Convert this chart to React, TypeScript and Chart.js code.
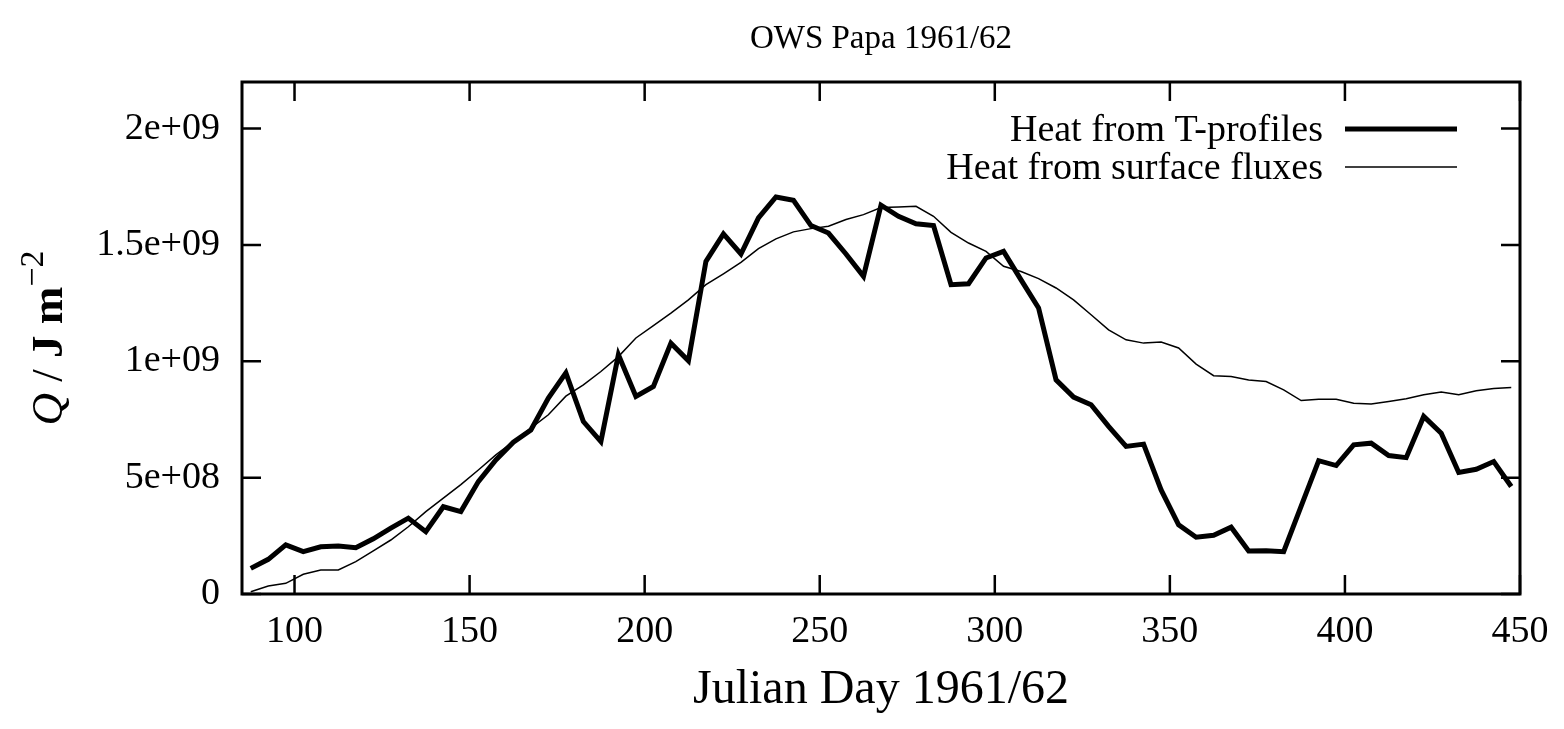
import React, { useEffect, useRef } from "react";
import { Chart, registerables } from "chart.js";

Chart.register(...registerables);

const chartTitle = "OWS Papa 1961/62";
const xAxisTitle = "Julian Day 1961/62";

const days = [
  87.5, 92.5, 97.5, 102.5, 107.5, 112.5, 117.5, 122.5, 127.5, 132.5,
  137.5, 142.5, 147.5, 152.5, 157.5, 162.5, 167.5, 172.5, 177.5, 182.5,
  187.5, 192.5, 197.5, 202.5, 207.5, 212.5, 217.5, 222.5, 227.5, 232.5,
  237.5, 242.5, 247.5, 252.5, 257.5, 262.5, 267.5, 272.5, 277.5, 282.5,
  287.5, 292.5, 297.5, 302.5, 307.5, 312.5, 317.5, 322.5, 327.5, 332.5,
  337.5, 342.5, 347.5, 352.5, 357.5, 362.5, 367.5, 372.5, 377.5, 382.5,
  387.5, 392.5, 397.5, 402.5, 407.5, 412.5, 417.5, 422.5, 427.5, 432.5,
  437.5, 442.5, 447.5,
];

const heatFromTProfiles = [
  1.10e8, 1.49e8, 2.11e8, 1.82e8, 2.03e8, 2.06e8, 1.99e8, 2.37e8, 2.83e8, 3.26e8,
  2.68e8, 3.75e8, 3.54e8, 4.83e8, 5.76e8, 6.52e8, 7.05e8, 8.42e8, 9.50e8, 7.41e8,
  6.55e8, 10.28e8, 8.49e8, 8.92e8, 10.78e8, 10.02e8, 14.29e8, 15.47e8, 14.61e8, 16.16e8,
  17.06e8, 16.92e8, 15.83e8, 15.51e8, 14.61e8, 13.65e8, 16.71e8, 16.23e8, 15.91e8, 15.83e8,
  13.29e8, 13.33e8, 14.44e8, 14.72e8, 13.50e8, 12.29e8, 9.20e8, 8.46e8, 8.13e8, 7.20e8,
  6.34e8, 6.44e8, 4.47e8, 2.97e8, 2.44e8, 2.52e8, 2.87e8, 1.85e8, 1.86e8, 1.82e8,
  3.78e8, 5.73e8, 5.52e8, 6.41e8, 6.48e8, 5.95e8, 5.86e8, 7.63e8, 6.91e8, 5.22e8,
  5.36e8, 5.69e8, 4.62e8,
];

const heatFromSurfaceFluxes = [
  0.10e8, 0.34e8, 0.46e8, 0.85e8, 1.03e8, 1.03e8, 1.39e8, 1.85e8, 2.32e8, 2.89e8,
  3.54e8, 4.12e8, 4.70e8, 5.33e8, 5.98e8, 6.55e8, 7.13e8, 7.70e8, 8.50e8, 8.99e8,
  9.56e8, 10.20e8, 11.00e8, 11.53e8, 12.07e8, 12.64e8, 13.29e8, 13.76e8, 14.25e8, 14.84e8,
  15.26e8, 15.56e8, 15.70e8, 15.80e8, 16.09e8, 16.30e8, 16.61e8, 16.63e8, 16.66e8, 16.23e8,
  15.54e8, 15.08e8, 14.72e8, 14.08e8, 13.86e8, 13.55e8, 13.15e8, 12.64e8, 12.00e8, 11.35e8,
  10.92e8, 10.78e8, 10.83e8, 10.57e8, 9.88e8, 9.38e8, 9.35e8, 9.20e8, 9.13e8, 8.77e8,
  8.31e8, 8.37e8, 8.37e8, 8.20e8, 8.16e8, 8.27e8, 8.39e8, 8.56e8, 8.68e8, 8.56e8,
  8.73e8, 8.83e8, 8.87e8,
];

const xTicks = [100, 150, 200, 250, 300, 350, 400, 450];
const yTicks = [0, 5e8, 1e9, 1.5e9, 2e9];
const yTickLabels = ["0", "5e+08", "1e+09", "1.5e+09", "2e+09"];

const SERIF = "'Liberation Serif', 'Times New Roman', Times, serif";

const framePlugin = {
  id: "gnuplotFrame",
  afterDraw(chart: any) {
    const { ctx, chartArea: a, scales } = chart;
    ctx.save();
    ctx.strokeStyle = "#000";
    ctx.fillStyle = "#000";
    ctx.lineCap = "butt";

    // inward tick marks on all four sides
    const L = 19;
    ctx.lineWidth = 2.5;
    ctx.beginPath();
    for (const t of scales.x.ticks) {
      const px = scales.x.getPixelForValue(t.value);
      ctx.moveTo(px, a.bottom);
      ctx.lineTo(px, a.bottom - L);
      ctx.moveTo(px, a.top);
      ctx.lineTo(px, a.top + L);
    }
    for (const t of scales.y.ticks) {
      const py = scales.y.getPixelForValue(t.value);
      ctx.moveTo(a.left, py);
      ctx.lineTo(a.left + L, py);
      ctx.moveTo(a.right, py);
      ctx.lineTo(a.right - L, py);
    }
    ctx.stroke();

    // frame
    ctx.lineWidth = 3;
    ctx.strokeRect(a.left, a.top, a.right - a.left, a.bottom - a.top);

    // legend (text right-aligned, sample line to its right)
    ctx.font = `38px ${SERIF}`;
    ctx.textAlign = "right";
    ctx.textBaseline = "middle";
    chart.data.datasets.forEach((ds: any, i: number) => {
      const y = 129 + i * 38;
      ctx.fillText(ds.label, 1323, y + 2);
      ctx.beginPath();
      ctx.lineWidth = ds.borderWidth;
      ctx.moveTo(1345, y);
      ctx.lineTo(1457, y);
      ctx.stroke();
    });

    // chart title
    ctx.textAlign = "center";
    ctx.textBaseline = "alphabetic";
    ctx.font = `33px ${SERIF}`;
    ctx.fillText(chartTitle, (a.left + a.right) / 2, 48);

    // x axis title
    ctx.font = `48px ${SERIF}`;
    ctx.fillText(xAxisTitle, (a.left + a.right) / 2, 703);

    // y axis title: Q / J m^-2 (rotated)
    const size = 45;
    const parts = [
      { t: "Q", f: `italic ${size}px ${SERIF}`, dy: 0 },
      { t: " / ", f: `${size}px ${SERIF}`, dy: 0 },
      { t: "J m", f: `bold ${size}px ${SERIF}`, dy: 0 },
      { t: "\u22122", f: `${Math.round(size * 0.75)}px ${SERIF}`, dy: -size * 0.42 },
    ];
    let total = 0;
    const widths = parts.map((p) => {
      ctx.font = p.f;
      const w = ctx.measureText(p.t).width;
      total += w;
      return w;
    });
    ctx.translate(62, (a.top + a.bottom) / 2);
    ctx.rotate(-Math.PI / 2);
    ctx.textAlign = "left";
    let x = -total / 2;
    parts.forEach((p, i) => {
      ctx.font = p.f;
      ctx.fillText(p.t, x, p.dy);
      x += widths[i];
    });

    ctx.restore();
  },
};

export default function App() {
  const canvasRef = useRef<HTMLCanvasElement | null>(null);

  useEffect(() => {
    if (!canvasRef.current) return;
    const chart = new Chart(canvasRef.current, {
      type: "line",
      data: {
        datasets: [
          {
            label: "Heat from T-profiles",
            data: days.map((d, i) => ({ x: d, y: heatFromTProfiles[i] })),
            borderColor: "#000",
            borderWidth: 5,
            pointRadius: 0,
            tension: 0,
            borderJoinStyle: "miter",
            fill: false,
          },
          {
            label: "Heat from surface fluxes",
            data: days.map((d, i) => ({ x: d, y: heatFromSurfaceFluxes[i] })),
            borderColor: "#000",
            borderWidth: 1.5,
            pointRadius: 0,
            tension: 0,
            borderJoinStyle: "miter",
            fill: false,
          },
        ],
      },
      options: {
        responsive: false,
        animation: false,
        events: [],
        layout: { padding: { left: 0, right: 44, top: 82, bottom: 0 } },
        plugins: {
          legend: { display: false },
          title: { display: false },
          tooltip: { enabled: false },
        },
        scales: {
          x: {
            type: "linear",
            min: 85,
            max: 450,
            grid: { display: false, drawTicks: false },
            border: { display: false },
            afterBuildTicks: (axis: any) => {
              axis.ticks = xTicks.map((v) => ({ value: v }));
            },
            afterFit: (axis: any) => {
              axis.height = 135;
            },
            ticks: {
              autoSkip: false,
              maxRotation: 0,
              padding: 15,
              color: "#000",
              font: { family: SERIF, size: 38 },
              callback: (v: any) => String(v),
            },
          },
          y: {
            type: "linear",
            min: 0,
            max: 2.2e9,
            grid: { display: false, drawTicks: false },
            border: { display: false },
            afterBuildTicks: (axis: any) => {
              axis.ticks = yTicks.map((v) => ({ value: v }));
            },
            afterFit: (axis: any) => {
              axis.width = 242;
            },
            ticks: {
              autoSkip: false,
              padding: 22,
              color: "#000",
              font: { family: SERIF, size: 38 },
              callback: (v: any) => {
                const i = yTicks.indexOf(Number(v));
                return i >= 0 ? yTickLabels[i] : "";
              },
            },
          },
        },
      },
      plugins: [framePlugin],
    } as any);
    return () => chart.destroy();
  }, []);

  return (
    <div style={{ position: "fixed", left: 0, top: 0, width: 1564, height: 729, background: "#fff" }}>
      <canvas ref={canvasRef} width={1564} height={729} style={{ display: "block" }} />
    </div>
  );
}
